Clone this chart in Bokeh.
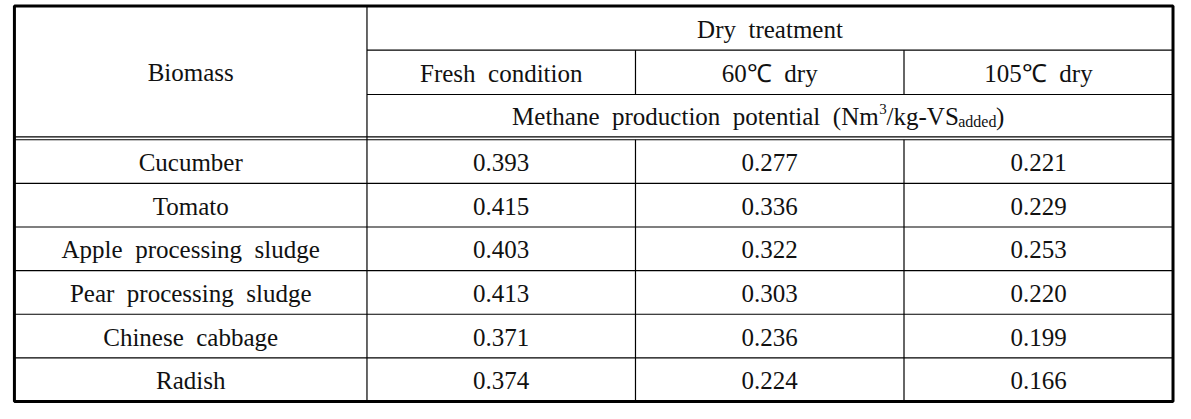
from bokeh.plotting import figure
from bokeh.models import Range1d, ColumnDataSource
from bokeh.core.properties import value
from bokeh.embed import file_html
from bokeh.resources import INLINE

# ---- data ----
biomass = ["Cucumber", "Tomato", "Apple\u00a0 processing\u00a0 sludge",
           "Pear\u00a0 processing\u00a0 sludge", "Chinese\u00a0 cabbage", "Radish"]
fresh = [0.393, 0.415, 0.403, 0.413, 0.371, 0.374]
dry60 = [0.277, 0.336, 0.322, 0.303, 0.236, 0.224]
dry105 = [0.221, 0.229, 0.253, 0.220, 0.199, 0.166]
group_header = "Dry\u00a0 treatment"
col_headers = ["Fresh\u00a0 condition", "60\u2103\u00a0 dry", "105\u2103\u00a0 dry"]
row_header = "Biomass"
unit_main = "Methane\u00a0 production\u00a0 potential\u00a0 (Nm"
unit_sup = "3"
unit_mid = "/kg-VS"
unit_sub = "added"
unit_end = ")"

# ---- layout (reference pixel coords) ----
W, H = 1175, 403
FONT = "Liberation Serif"
FS = "25px"
x_edges = [14, 368.5, 638.5, 908.5, 1179]
y_top, y_r1, y_r2, y_d1, y_d2 = 5.5, 50.5, 95.5, 138.5, 141.5
y_bot = 407.5
n = len(biomass)
row_h = (y_bot - y_d2) / n
row_edges = [y_d2 + i * row_h for i in range(n + 1)]

p = figure(width=W, height=H, output_backend="svg", toolbar_location=None,
           x_range=Range1d(0, 1181.5), y_range=Range1d(409.5, 0),
           min_border=0, outline_line_color=None)
p.axis.visible = False
p.grid.visible = False
p.background_fill_color = "white"
p.border_fill_color = "white"

# lines
x0s, y0s, x1s, y1s = [], [], [], []
def seg(a, b, c, d):
    x0s.append(a); y0s.append(b); x1s.append(c); y1s.append(d)

seg(x_edges[1], y_top, x_edges[1], y_bot)
for xe in x_edges[2:4]:
    seg(xe, y_r1, xe, y_r2)
    seg(xe, y_d2, xe, y_bot)
seg(x_edges[1], y_r1, x_edges[4], y_r1)
seg(x_edges[1], y_r2, x_edges[4], y_r2)
seg(x_edges[0], y_d1, x_edges[4], y_d1)
seg(x_edges[0], y_d2, x_edges[4], y_d2)
for ye in row_edges[1:-1]:
    seg(x_edges[0], ye, x_edges[4], ye)
p.segment(x0s, y0s, x1s, y1s, line_color="black", line_width=1.2)
p.quad(left=[x_edges[0]], right=[x_edges[4]], top=[y_top], bottom=[y_bot],
       fill_color=None, line_color="black", line_width=3)

def txt(xs, ys, ts, size=FS, align="center", baseline="middle"):
    p.text(x=xs, y=ys, text=ts, text_font=value(FONT), text_font_size=size,
           text_align=align, text_baseline=baseline, text_color="#111111")

# headers
txt([(x_edges[0] + x_edges[1]) / 2], [(y_top + y_d1) / 2 + 1], [row_header])
txt([(x_edges[1] + x_edges[4]) / 2], [(y_top + y_r1) / 2 + 1], [group_header])
txt([(x_edges[i] + x_edges[i + 1]) / 2 for i in range(1, 4)],
    [(y_r1 + y_r2) / 2 + 1] * 3, col_headers)

# methane unit line: main text right-aligned at an anchor, rest left-aligned
ymid = (y_r2 + y_d1) / 2 + 1
ax = 883
txt([ax], [ymid], [unit_main], align="right")
txt([ax + 0.5], [ymid - 8], [unit_sup], size="15px", align="left")
txt([ax + 8], [ymid], [unit_mid], align="left")
txt([ax + 80], [ymid + 5], [unit_sub], size="16px", align="left")
txt([ax + 118], [ymid], [unit_end], align="left")

# body
cy = [(row_edges[i] + row_edges[i + 1]) / 2 + 1 for i in range(n)]
src = ColumnDataSource(dict(
    y=cy, name=biomass,
    f=[f"{v:.3f}" for v in fresh],
    d60=[f"{v:.3f}" for v in dry60],
    d105=[f"{v:.3f}" for v in dry105]))
for i, col in enumerate(["name", "f", "d60", "d105"]):
    p.text(x=(x_edges[i] + x_edges[i + 1]) / 2, y="y", text=col, source=src,
           text_font=value(FONT), text_font_size=FS, text_align="center",
           text_baseline="middle", text_color="#111111")

open("out.html", "w").write(file_html(p, INLINE))
